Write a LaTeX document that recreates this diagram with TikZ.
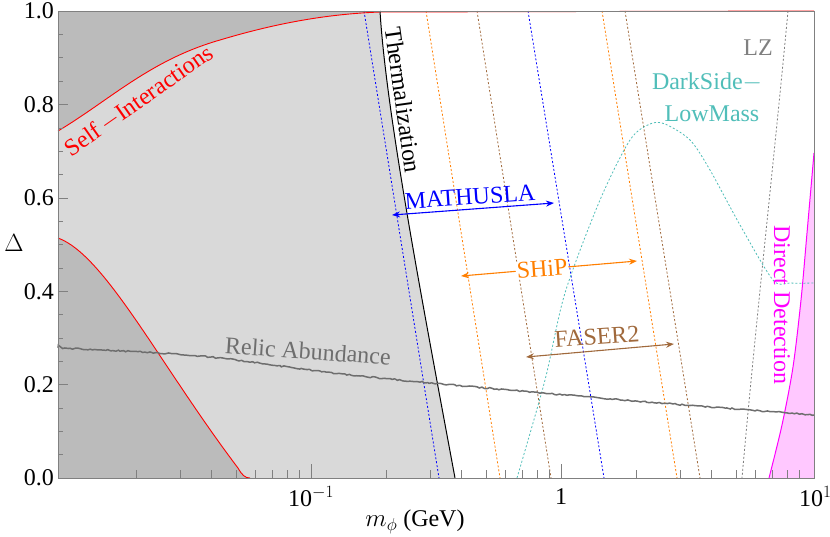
\documentclass[tikz,border=0pt]{standalone}
\usepackage{fontspec}
\setmainfont{Liberation Serif}
\usetikzlibrary{arrows.meta,decorations.pathmorphing}
\definecolor{dkg}{RGB}{187,187,187}
\definecolor{ltg}{RGB}{217,217,217}
\definecolor{myorange}{RGB}{255,127,0}
\definecolor{mybrown}{RGB}{160,105,60}
\definecolor{mycyan}{RGB}{80,190,185}
\definecolor{mypink}{RGB}{255,200,255}
\definecolor{mymag}{RGB}{255,0,255}
\definecolor{relic}{RGB}{110,110,110}
\tikzset{
  dots/.style={line width=0.8pt, dash pattern=on 2pt off 2pt},
  lab/.style={font=\fontsize{24}{26}\selectfont, inner sep=1pt},
  tick/.style={font=\fontsize{24}{26}\selectfont},
  rng/.style={line width=1.1pt, {Stealth[length=8pt,width=6pt]}-{Stealth[length=8pt,width=6pt]}}
}
\begin{document}
\begin{tikzpicture}[x=1pt,y=-1pt]
\useasboundingbox (0,0) rectangle (830,536);
% backgrounds
\fill[dkg] (58,11) rectangle (814,478);
\fill[ltg] (58,131) .. controls (110,100) and (150,60) .. (220,40) .. controls (280,22) and (330,14) .. (380,12)
  .. controls (386,110) and (420,290) .. (455,478) -- (250,478)
  .. controls (245,478) and (242,475) .. (238,468) .. controls (160,365) and (105,255) .. (58,238) -- cycle;
\fill[white] (380,11) .. controls (386,110) and (420,290) .. (455,478) -- (814,478) -- (814,11) -- cycle;
% direct detection
\fill[mypink] plot[smooth] coordinates {(769,478)(782,425)(793,367)(801,300)(807,233)(814,153)} -- (814,478) -- cycle;
\draw[mymag, line width=1pt] plot[smooth] coordinates {(769,478)(782,425)(793,367)(801,300)(807,233)(814,153)};
% dotted sensitivity lines
\draw[dots, blue] (364,11) -- (439,478);
\draw[dots, myorange] (426,11) -- (500,478);
\draw[dots, mybrown] (477,11) -- (551,478);
\draw[dots, blue] (528,11) -- (604,478);
\draw[dots, myorange] (602,11) -- (677,478);
\draw[dots, mybrown] (625,11) -- (700,478);
\draw[dots, gray] (788,11) .. controls (775,150) and (755,330) .. (742,478);
\draw[dots, mycyan] plot[smooth] coordinates {(517,478)(545,380)(565,293)(600,200)(630,140)(650,124)(665,124)(690,140)(710,170)(740,225)(773,280)(790,283)(814,283)};
% red curves
\draw[red, line width=0.9pt] (58,131) .. controls (110,100) and (150,60) .. (220,40) .. controls (280,22) and (330,14) .. (380,12) -- (814,11);
\draw[red, line width=0.9pt] (58,238) .. controls (105,255) and (160,365) .. (238,468) .. controls (242,475) and (245,478) .. (250,478);
\draw[red!40, line width=1pt] (250,478) -- (814,478);
% thermalization
\draw[black, line width=1pt] (380,11) .. controls (386,110) and (420,290) .. (455,478);
% relic
\draw[relic, line width=1.5pt, decorate, decoration={random steps, segment length=2.5pt, amplitude=0.7pt}]
  plot[smooth] coordinates {(58,348)(200,356)(360,376)(600,398)(814,415)};
% frame and ticks
\draw[gray, line width=0.8pt] (58,11) rectangle (814,478);
\foreach \d in {-2,-1,0}{
  \foreach \l in {0.301,0.477,0.602,0.699,0.778,0.845,0.903,0.954}{
    \pgfmathsetmacro\xx{311+250*(\d+1+\l)}
    \draw[gray] (\xx,478) -- (\xx,470);
  }
}
\foreach \xx in {311,561}{\draw[gray] (\xx,478) -- (\xx,464);}
\foreach \v in {0,1,...,20}{
  \pgfmathsetmacro\yy{478-\v*0.05*467}
  \draw[gray] (58,\yy) -- (63,\yy);
}
\foreach \v in {0,1,...,5}{
  \pgfmathsetmacro\yy{478-\v*0.2*467}
  \draw[gray] (58,\yy) -- (68,\yy);
}
% tick labels
\foreach \v/\t in {0/0.0,1/0.2,2/0.4,3/0.6,4/0.8,5/1.0}{
  \pgfmathsetmacro\yy{478-\v*0.2*467}
  \node[tick, anchor=east, inner sep=2pt] (yl\v) at (56,\yy) {\t};
}
\node[tick] (x1) at (311,497) {10$^{-1}$};
\node[tick] (x2) at (561,497) {1};
\node[tick, anchor=west, inner sep=0pt] (x3) at (799,497) {10$^{1}$};
\node[tick] (xlab) at (415,522) {$m_\phi$ (GeV)};
\node[tick] (ylab) at (14,243) {$\Delta$};
% labels
\node[lab, red, rotate=35] (si) at (139,101) {Self$\,-$Interactions};
\node[lab, black, rotate=-82] (th) at (403,100) {Thermalization};
\node[lab, relic, rotate=-4] (ra) at (308,351) {Relic Abundance};
\node[lab, gray] (lz) at (758,48) {LZ};
\node[lab, mycyan] (ds1) at (707,82) {DarkSide$-$};
\node[lab, mycyan] (ds2) at (712,114) {LowMass};
\node[lab, mymag, rotate=-90] (dd) at (782,305) {Direct Detection};
% ranges
\coordinate (m1) at (392,215); \coordinate (m2) at (554,203);
\draw[rng, blue] (m1) -- (m2);
\node[lab, blue, rotate=4] (mat) at (470,197) {MATHUSLA};
\coordinate (s1) at (461,276); \coordinate (s2) at (637,261);
\draw[rng, myorange] (s1) -- (s2);
\node[lab, myorange, fill=white, rotate=4] (ship) at (542,269) {SHiP};
\coordinate (f1) at (526,357); \coordinate (f2) at (674,344);
\draw[rng, mybrown] (f1) -- (f2);
\node[lab, mybrown, rotate=4] (fas) at (597,337) {FASER2};
\end{tikzpicture}
\end{document}
